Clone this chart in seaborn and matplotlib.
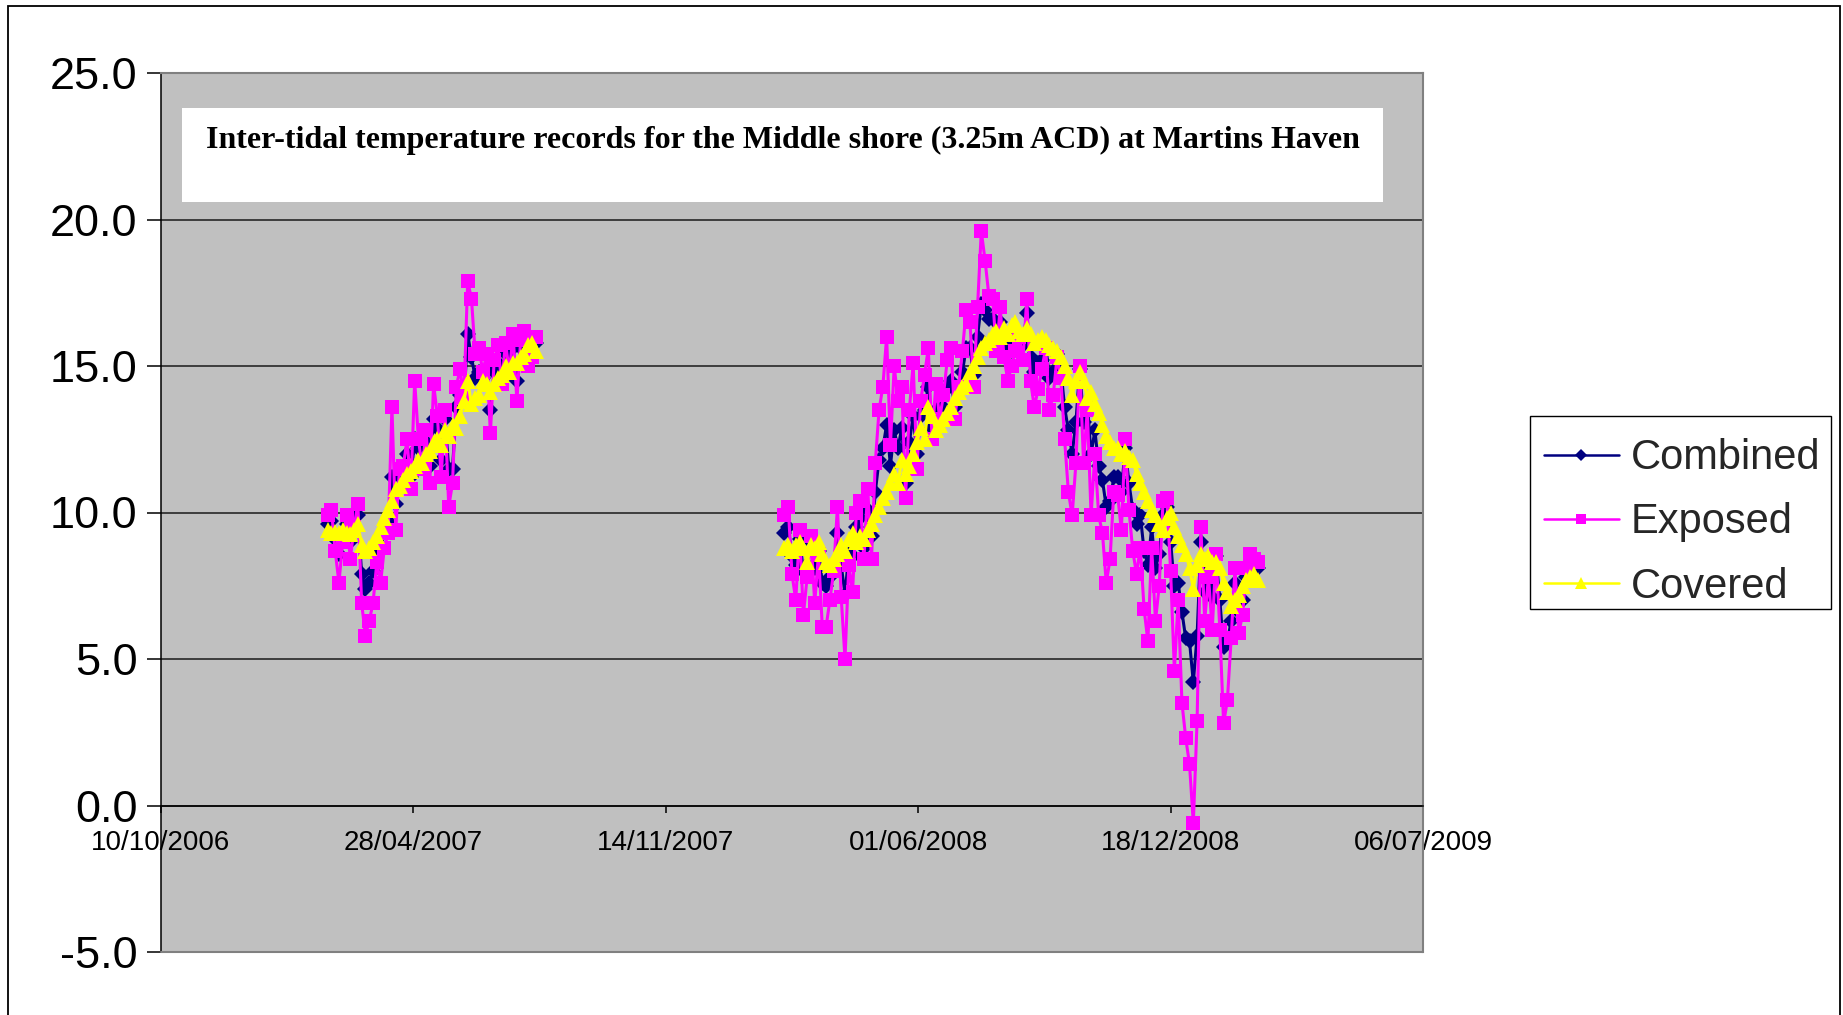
import pandas as pd
import matplotlib
matplotlib.use("Agg")
import matplotlib.pyplot as plt
import matplotlib.dates as mdates
from matplotlib.lines import Line2D
from matplotlib.patches import Rectangle
import seaborn as sns

sns.set_theme(style="white")
plt.rcParams["font.family"] = ["Liberation Sans", "DejaVu Sans"]

# ---- 2007 deployment: readings every third day from 19 Feb 2007 ----
start_2007 = "2007-02-19"
combined_2007 = [9.6, 9.7, 9.1, 8.6, 9.2, 9.6, 9.0, 9.4, 9.9, 7.9,
                 7.4, 7.6, 8.0, 8.8, 8.7, 9.4, 9.7, 11.2, 10.3, 11.2,
                 11.3, 12.0, 11.2, 12.5, 12.2, 11.6, 12.4, 11.6, 13.2, 12.9,
                 11.8, 13.2, 11.5, 11.5, 13.6, 14.0, 13.8, 16.1, 15.3, 14.6,
                 14.8, 14.6, 14.9, 13.5, 14.8, 15.1, 14.5, 15.4, 14.8, 15.6,
                 14.5, 15.6, 15.8, 15.4, 15.5, 15.8]
exposed_2007 = [9.9, 10.1, 8.7, 7.6, 9.0, 9.9, 8.4, 9.5, 10.3, 6.9,
                5.8, 6.3, 6.9, 8.3, 7.6, 8.8, 9.3, 13.6, 9.4, 11.5,
                11.6, 12.5, 10.8, 14.5, 12.5, 11.5, 12.8, 11.0, 14.4, 13.3,
                11.2, 13.5, 10.2, 11.0, 14.3, 14.9, 13.9, 17.9, 17.3, 15.4,
                15.6, 14.8, 15.4, 12.7, 15.2, 15.7, 14.4, 15.8, 14.8, 16.1,
                13.8, 15.9, 16.2, 15.0, 15.3, 16.0]
covered_2007 = [9.4, 9.3, 9.35, 9.3, 9.4, 9.3, 9.25, 9.4, 9.6, 8.9,
                8.7, 8.8, 9.0, 9.2, 9.5, 9.8, 10.1, 10.4, 10.8, 10.9,
                11.1, 11.3, 11.4, 11.6, 11.8, 11.7, 12.0, 12.1, 12.4, 12.5,
                12.3, 12.8, 12.6, 13.0, 12.9, 13.3, 13.8, 14.5, 13.7, 13.9,
                14.0, 14.5, 14.4, 14.1, 14.4, 14.6, 14.7, 15.0, 14.8, 15.1,
                15.1, 15.3, 15.4, 15.7, 15.8, 15.5]

# ---- 2008/09 deployment: readings every third day from 16 Feb 2008 ----
start_2008 = "2008-02-16"
combined_2008 = [9.3, 9.5, 8.5, 8.2, 9.1, 8.0, 8.2, 9.0, 8.1, 8.7,
                 7.6, 7.5, 7.8, 8.2, 9.3, 8.2, 7.2, 8.6, 8.5, 9.5,
                 9.8, 8.8, 10.1, 9.2, 10.7, 11.8, 12.2, 13.0, 11.6, 12.8,
                 12.2, 12.9, 11.0, 12.4, 13.3, 12.0, 13.3, 13.5, 14.3, 12.9,
                 13.5, 13.1, 13.6, 14.2, 14.5, 13.6, 14.2, 14.8, 15.6, 15.6,
                 14.7, 16.0, 17.1, 16.9, 16.6, 16.6, 15.9, 16.5, 15.8, 15.4,
                 15.6, 16.0, 16.1, 15.7, 16.8, 15.3, 14.8, 15.1, 15.2, 15.7,
                 14.6, 14.8, 15.4, 14.9, 13.6, 12.8, 12.0, 13.1, 14.9, 13.1,
                 13.7, 12.0, 12.8, 11.6, 11.1, 10.2, 10.4, 11.2, 11.2, 10.7,
                 12.2, 11.0, 10.1, 9.6, 9.9, 8.7, 8.2, 9.5, 8.1, 8.6,
                 9.9, 10.2, 9.0, 7.5, 7.6, 6.6, 5.7, 5.6, 4.2, 5.8,
                 9.0, 7.3, 8.2, 7.1, 8.5, 7.0, 5.4, 5.6, 6.3, 7.6,
                 6.6, 7.0, 7.8, 8.2, 8.2, 8.1]
exposed_2008 = [9.9, 10.2, 7.9, 7.0, 9.4, 6.5, 7.8, 9.2, 6.9, 8.6,
                6.1, 6.1, 7.0, 8.0, 10.2, 7.1, 5.0, 8.2, 7.3, 10.0,
                10.4, 8.4, 10.8, 8.4, 11.7, 13.5, 14.3, 16.0, 12.3, 15.0,
                13.8, 14.3, 10.5, 13.5, 15.1, 11.5, 13.8, 14.7, 15.6, 12.5,
                14.4, 13.2, 14.0, 15.2, 15.6, 13.2, 14.3, 15.5, 16.9, 16.5,
                14.3, 17.0, 19.6, 18.6, 17.4, 17.3, 15.5, 17.0, 15.3, 14.5,
                15.0, 15.5, 16.0, 15.2, 17.3, 14.5, 13.6, 14.2, 14.9, 15.6,
                13.5, 14.0, 15.3, 14.6, 12.5, 10.7, 9.9, 11.7, 15.0, 11.7,
                13.5, 9.9, 12.0, 9.9, 9.3, 7.6, 8.4, 10.7, 10.6, 9.4,
                12.5, 10.1, 8.7, 7.9, 8.8, 6.7, 5.6, 8.8, 6.3, 7.5,
                10.4, 10.5, 8.0, 4.6, 7.0, 3.5, 2.3, 1.4, -0.6, 2.9,
                9.5, 6.3, 7.8, 6.0, 8.6, 6.0, 2.8, 3.6, 5.7, 8.1,
                5.9, 6.5, 8.1, 8.6, 8.4, 8.3]
covered_2008 = [8.8, 8.9, 8.7, 8.9, 9.0, 8.8, 8.3, 8.9, 8.8, 9.0,
                8.6, 8.3, 8.2, 8.4, 8.6, 8.9, 8.7, 9.1, 9.3, 9.0,
                9.2, 9.1, 9.4, 9.6, 9.9, 10.2, 10.5, 10.7, 11.0, 11.3,
                11.0, 11.8, 11.3, 11.6, 12.0, 12.4, 12.9, 12.5, 13.6, 13.3,
                12.8, 13.0, 13.2, 13.4, 13.6, 13.9, 14.1, 14.3, 14.4, 14.8,
                15.0, 15.3, 15.6, 15.8, 15.9, 16.1, 16.2, 16.0, 16.3, 16.1,
                16.4, 16.5, 16.2, 16.1, 16.3, 16.1, 15.8, 15.9, 16.0, 15.9,
                15.7, 15.6, 15.5, 15.3, 15.0, 14.6, 14.0, 14.5, 14.8, 14.5,
                13.9, 14.1, 13.7, 13.4, 13.0, 12.6, 12.4, 12.2, 12.2, 12.0,
                12.1, 11.9, 11.8, 11.3, 11.0, 10.7, 10.4, 10.1, 9.9, 9.6,
                9.4, 9.8, 10.0, 9.5, 9.2, 8.9, 8.6, 8.1, 7.4, 8.2,
                8.6, 8.4, 8.5, 8.3, 8.3, 8.1, 7.6, 7.3, 6.8, 7.0,
                7.2, 7.5, 7.7, 7.8, 7.9, 7.7]

tick_dates = ["2006-10-10", "2007-04-28", "2007-11-14",
              "2008-06-01", "2008-12-18", "2009-07-06"]
tick_labels = ["10/10/2006", "28/04/2007", "14/11/2007",
               "01/06/2008", "18/12/2008", "06/07/2009"]
y_ticks = [-5, 0, 5, 10, 15, 20, 25]

title_text = ("Inter-tidal temperature records for the Middle shore "
              "(3.25m ACD) at Martins Haven")

series_names = ["Combined", "Exposed", "Covered"]
series_style = {
    "Combined": dict(color="#000080", marker="D", markersize=8.5, zorder=3),
    "Exposed": dict(color="#FF00FF", marker="s", markersize=9.5, zorder=4),
    "Covered": dict(color="#FFFF00", marker="^", markersize=12, zorder=5),
}

deployments = [
    (start_2007, {"Combined": combined_2007, "Exposed": exposed_2007, "Covered": covered_2007}),
    (start_2008, {"Combined": combined_2008, "Exposed": exposed_2008, "Covered": covered_2008}),
]

W, H = 1843, 1015
fig = plt.figure(figsize=(W / 100, H / 100), dpi=100)
fig.patch.set_facecolor("white")
ax = fig.add_axes([161 / W, 63 / H, 1262 / W, 879 / H])
ax.set_facecolor("#C0C0C0")

# Each deployment is drawn on its own so the gap between them stays open
for start, values in deployments:
    for name in series_names:
        vals = values[name]
        dates = pd.date_range(start, periods=len(vals), freq="3D")
        frame = pd.DataFrame({"date": dates, "temp": vals})
        st = series_style[name]
        sns.lineplot(data=frame, x="date", y="temp", ax=ax, color=st["color"],
                     marker=st["marker"], markersize=st["markersize"],
                     markeredgewidth=0, linewidth=2.2, zorder=st["zorder"],
                     estimator=None, sort=False, legend=False)

ax.set_xlabel("")
ax.set_ylabel("")
ax.set_ylim(-5, 25)
ax.set_xlim(mdates.date2num(pd.Timestamp(tick_dates[0])),
            mdates.date2num(pd.Timestamp(tick_dates[-1])))

ax.set_yticks(y_ticks)
ax.set_yticklabels([f"{v:.1f}" for v in y_ticks])
ax.set_xticks([mdates.date2num(pd.Timestamp(d)) for d in tick_dates])
ax.set_xticklabels(tick_labels)

ax.yaxis.grid(True, color="#1a1a1a", linewidth=1.1)
ax.xaxis.grid(False)
ax.set_axisbelow(True)

# Date axis crosses the value axis at 0
ax.spines["bottom"].set_position(("data", 0))
ax.spines["bottom"].set_color("black")
ax.spines["bottom"].set_linewidth(1.1)
ax.spines["left"].set_color("black")
ax.spines["left"].set_linewidth(1.1)
for side in ("top", "right"):
    ax.spines[side].set_color("#808080")
    ax.spines[side].set_linewidth(1.5)
ax.plot([0, 1], [0, 0], transform=ax.transAxes, color="#808080",
        linewidth=1.5, clip_on=False, zorder=6)

ax.tick_params(axis="x", direction="out", length=5, width=1.1, colors="black",
               labelsize=20, pad=13, bottom=True)
ax.tick_params(axis="y", direction="out", length=10, width=1.1, colors="black",
               labelsize=32.5, pad=7, left=True)

# Title panel inside the plot area
ax.add_patch(Rectangle((21 / 1262, 0.8527), 1201 / 1262, 0.108,
                       transform=ax.transAxes, facecolor="white",
                       edgecolor="none", zorder=7))
ax.text(0.4925, 0.9235, title_text, transform=ax.transAxes, ha="center",
        va="center", fontsize=23, fontweight="bold",
        family=["Liberation Serif", "DejaVu Serif"], color="black", zorder=8)

# Legend box and entries
fig.patches.append(Rectangle((1530 / W, 1 - 609 / H), 301 / W, 193 / H,
                             transform=fig.transFigure, facecolor="white",
                             edgecolor="black", linewidth=1.0, zorder=1))
handles = [Line2D([], [], color=series_style[n]["color"], marker=series_style[n]["marker"],
                  markersize=series_style[n]["markersize"] * 0.72, markeredgewidth=0,
                  linewidth=1.8) for n in series_names]
leg = fig.legend(handles, series_names, loc="center left",
                 bbox_to_anchor=(1531 / W, 1 - 522.5 / H),
                 fontsize=30, frameon=False, borderpad=0.3, labelspacing=0.58,
                 handlelength=1.8, handletextpad=0.3, borderaxespad=0)
leg.set_zorder(2)

# Chart border
fig.patches.append(Rectangle((8 / W, -0.05), 1832 / W, 1.05 - 6 / H,
                             transform=fig.transFigure, fill=False,
                             edgecolor="black", linewidth=1.3))

fig.savefig("out.png", dpi=100, facecolor="white")
